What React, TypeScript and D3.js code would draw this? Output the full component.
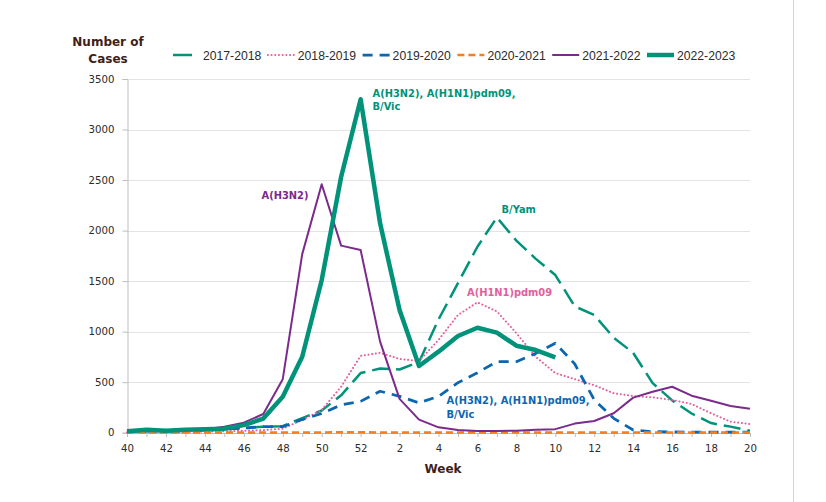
import { useRef, useEffect } from "react";
import * as d3 from "d3";

// weeks of the season, 40..52 then 1..20
const weeks = [40, 41, 42, 43, 44, 45, 46, 47, 48, 49, 50, 51, 52, 1, 2, 3, 4, 5, 6, 7, 8, 9, 10, 11, 12, 13, 14, 15, 16, 17, 18, 19, 20];
const yTicks = [0, 500, 1000, 1500, 2000, 2500, 3000, 3500];

const s2017 = [15, 20, 20, 25, 30, 35, 45, 60, 65, 145, 220, 370, 590, 635, 625, 700, 1120, 1480, 1840, 2130, 1900, 1720, 1560, 1250, 1165, 940, 790, 490, 320, 190, 95, 60, 20];
const s2018 = [5, 5, 5, 5, 10, 15, 20, 25, 40, 126, 224, 455, 760, 790, 730, 710, 917, 1165, 1290, 1200, 985, 750, 590, 530, 470, 390, 363, 350, 324, 284, 192, 109, 86];
const s2019 = [10, 15, 15, 20, 25, 35, 45, 60, 60, 130, 190, 275, 310, 410, 360, 295, 360, 495, 594, 703, 703, 785, 885, 680, 324, 142, 27, 10, 8, 5, 5, 5, 5];
const s2020 = [2, 2, 3, 3, 3, 3, 3, 3, 2, 3, 3, 4, 4, 3, 3, 2, 2, 2, 2, 2, 2, 2, 2, 2, 2, 2, 2, 2, 2, 2, 2, 2, 2];
const s2021 = [10, 20, 15, 25, 35, 60, 99, 185, 530, 1767, 2458, 1851, 1808, 901, 335, 129, 53, 27, 17, 17, 20, 28, 35, 90, 116, 192, 347, 406, 455, 366, 317, 264, 238];
const s2022 = [15, 30, 20, 30, 35, 40, 75, 140, 356, 752, 1509, 2533, 3300, 2072, 1214, 660, 802, 957, 1039, 990, 861, 818, 746];

const seasons = ["2017-2018", "2018-2019", "2019-2020", "2020-2021", "2021-2022", "2022-2023"];

const TEAL = "#00937a";
const PINK = "#e2609c";
const BLUE = "#0b66b0";
const ORANGE = "#f47e22";
const PURPLE = "#7a2b8c";
const BROWN = "#3f1e18";

type Style = { values: number[]; color: string; width: number; dash: string | null; cap: string };

const styles: Style[] = [
  { values: s2017, color: TEAL, width: 2.5, dash: "17 7", cap: "butt" },
  { values: s2018, color: PINK, width: 2, dash: "0.1 3.6", cap: "round" },
  { values: s2019, color: BLUE, width: 2.75, dash: "10 7", cap: "butt" },
  { values: s2020, color: ORANGE, width: 2.5, dash: "7 4", cap: "butt" },
  { values: s2021, color: PURPLE, width: 2, dash: null, cap: "butt" },
  { values: s2022, color: TEAL, width: 4.5, dash: null, cap: "butt" },
];

const App = () => {
  const svgRef = useRef<SVGSVGElement>(null);
  const width = 826;
  const height = 502;

  useEffect(() => {
    if (!svgRef.current) {
      return;
    }
    const svg = d3.select(svgRef.current);
    svg.selectAll("*").remove();

    const x = d3
      .scalePoint<string>()
      .domain(weeks.map(String))
      .range([127, 750]);
    const y = d3.scaleLinear().domain([0, 3500]).range([432.7, 79]);

    const g = svg.append("g");

    // frame line at right
    g.append("line")
      .attr("x1", 793.5)
      .attr("x2", 793.5)
      .attr("y1", 0)
      .attr("y2", height)
      .attr("stroke", "#d4d4d4")
      .attr("stroke-width", 1);

    // grid
    g.selectAll("line.grid")
      .data(yTicks.filter((d) => d > 0))
      .enter()
      .append("line")
      .attr("x1", 127)
      .attr("x2", 750)
      .attr("y1", (d) => Math.round(y(d)) + 0.5)
      .attr("y2", (d) => Math.round(y(d)) + 0.5)
      .attr("stroke", "#e3e3e3")
      .attr("stroke-width", 1);

    // y axis
    const yAxis = g
      .append("g")
      .attr("transform", "translate(127.5,0)")
      .call(
        d3
          .axisLeft(y)
          .tickValues(yTicks)
          .tickSize(5)
          .tickPadding(8)
          .tickFormat(d3.format("d"))
      );
    yAxis.select(".domain").attr("stroke", "#bdbdbd");
    yAxis.selectAll(".tick line").attr("stroke", "#bdbdbd");
    yAxis
      .selectAll("text")
      .attr("font-family", "DejaVu Sans, Verdana, sans-serif")
      .attr("font-size", 10.2)
      .attr("fill", "#2b2b2b");

    // x axis
    const xAxis = g
      .append("g")
      .attr("transform", `translate(0,${433})`)
      .call(
        d3
          .axisBottom(x)
          .tickSize(4)
          .tickPadding(8)
          .tickFormat((d, i) => (i % 2 === 0 ? d : ""))
          .tickSizeOuter(0)
      );
    xAxis.select(".domain").attr("stroke", "#bdbdbd");
    xAxis.selectAll(".tick line").attr("stroke", "#bdbdbd");
    xAxis
      .selectAll("text")
      .attr("font-family", "DejaVu Sans, Verdana, sans-serif")
      .attr("font-size", 10.2)
      .attr("fill", "#2b2b2b");

    // lines
    styles.forEach((s) => {
      const line = d3
        .line<number>()
        .x((_, i) => x(String(weeks[i])) as number)
        .y((d) => y(d));
      g.append("path")
        .datum(s.values)
        .attr("d", line)
        .attr("fill", "none")
        .attr("stroke", s.color)
        .attr("stroke-width", s.width)
        .attr("stroke-linejoin", "round")
        .attr("stroke-linecap", s.cap)
        .attr("stroke-dasharray", s.dash);
    });

    // axis titles
    const title = g
      .append("text")
      .attr("font-family", "DejaVu Sans, Verdana, sans-serif")
      .attr("font-weight", "bold")
      .attr("font-size", 12)
      .attr("fill", BROWN)
      .attr("text-anchor", "middle");
    title.append("tspan").attr("x", 108).attr("y", 45.5).text("Number of");
    title.append("tspan").attr("x", 108).attr("y", 62.5).text("Cases");

    g.append("text")
      .attr("x", 443)
      .attr("y", 473)
      .attr("font-family", "DejaVu Sans, Verdana, sans-serif")
      .attr("font-weight", "bold")
      .attr("font-size", 12)
      .attr("fill", BROWN)
      .attr("text-anchor", "middle")
      .text("Week");

    // legend
    const legend = g
      .selectAll("g.legend")
      .data(styles)
      .enter()
      .append("g")
      .attr("transform", (_, i) => `translate(${203 + i * 94.8},55)`);
    legend
      .append("line")
      .attr("x1", -30)
      .attr("x2", (_, i) => (i === 0 ? -11 : -3))
      .attr("y1", 0)
      .attr("y2", 0)
      .attr("stroke", (d) => d.color)
      .attr("stroke-width", (d) => d.width)
      .attr("stroke-linecap", (d) => d.cap)
      .attr("stroke-dasharray", (d, i) => (i === 0 ? null : d.dash));
    legend
      .append("text")
      .attr("x", 0)
      .attr("y", 4.5)
      .attr("font-family", "Liberation Sans, Arial, sans-serif")
      .attr("font-size", 12.2)
      .attr("fill", "#2b2b2b")
      .text((_, i) => seasons[i]);

    // annotations
    const notes: [number, number, string, string][] = [
      [261.5, 199, "A(H3N2)", PURPLE],
      [372.5, 97, "A(H3N2), A(H1N1)pdm09,", TEAL],
      [372.5, 109.5, "B/Vic", TEAL],
      [501.5, 213, "B/Yam", TEAL],
      [467, 296, "A(H1N1)pdm09", PINK],
      [446.5, 404, "A(H3N2), A(H1N1)pdm09,", BLUE],
      [446.5, 417.5, "B/Vic", BLUE],
    ];
    g.selectAll("text.note")
      .data(notes)
      .enter()
      .append("text")
      .attr("x", (d) => d[0])
      .attr("y", (d) => d[1])
      .attr("font-family", "DejaVu Sans, Verdana, sans-serif")
      .attr("font-weight", "bold")
      .attr("font-size", 9.9)
      .attr("fill", (d) => d[3])
      .text((d) => d[2]);

    return () => {
      svg.selectAll("*").remove();
    };
  }, []);

  return (
    <svg
      ref={svgRef}
      width={width}
      height={height}
      style={{ position: "absolute", left: 0, top: 0, background: "#fff" }}
    />
  );
};

export default App;
